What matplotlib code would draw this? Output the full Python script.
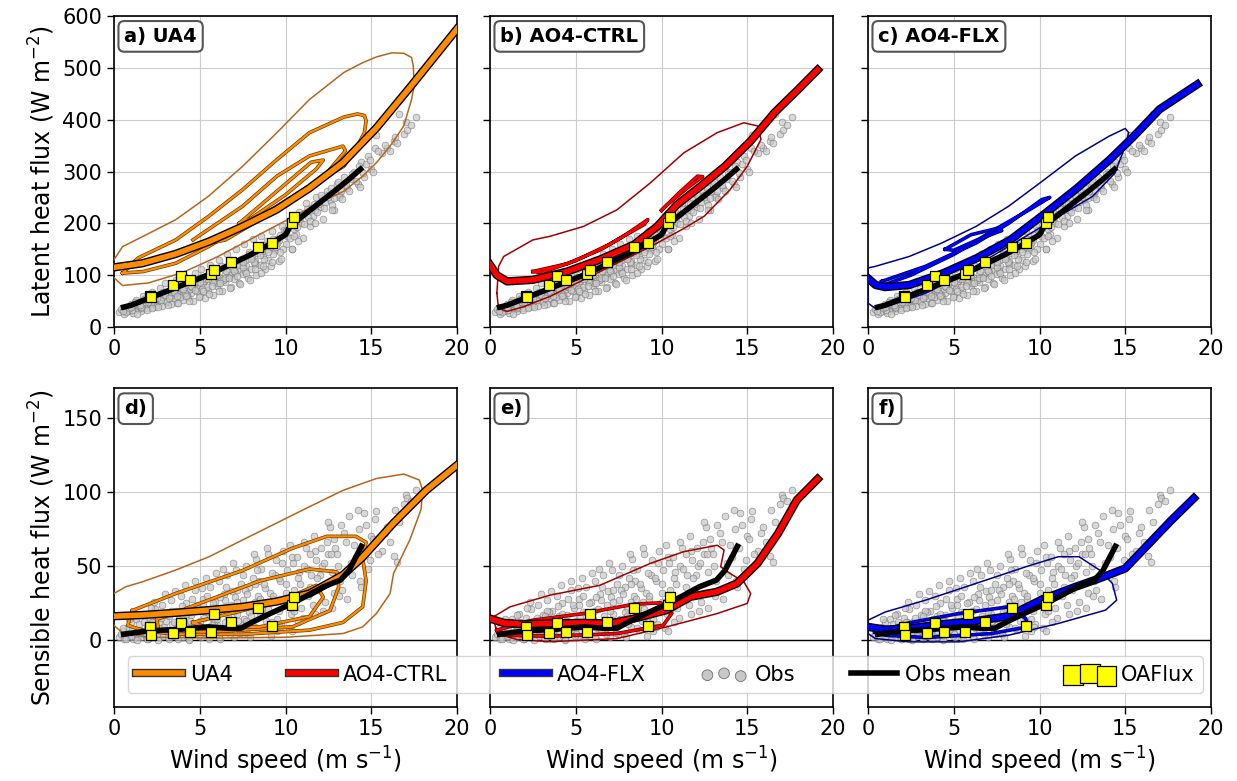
import matplotlib
matplotlib.use("Agg")
import matplotlib.pyplot as plt
import matplotlib.patheffects as pe
from matplotlib.lines import Line2D

# ---------------- data ----------------
# observations (same wind speeds for both fluxes)
obs_ws = [0.3, 0.5, 0.6, 0.8, 0.9, 1.0, 1.1, 1.2, 1.3, 1.4,
          1.5, 1.6, 1.7, 1.8, 1.9, 2.0, 2.1, 2.2, 2.3, 2.4,
          2.5, 2.6, 2.7, 2.8, 2.9, 3.0, 3.1, 3.2, 3.3, 3.4,
          3.5, 3.6, 3.7, 3.8, 3.9, 4.0, 4.1, 4.2, 4.3, 4.4,
          4.5, 4.6, 4.7, 4.8, 4.9, 5.0, 5.1, 5.2, 5.3, 5.4,
          5.5, 5.6, 5.7, 5.8, 5.9, 6.0, 6.1, 6.2, 6.3, 6.4,
          6.5, 6.6, 6.7, 6.8, 6.9, 7.0, 7.1, 7.2, 7.3, 7.4,
          7.5, 7.6, 7.7, 7.8, 7.9, 8.0, 8.1, 8.2, 8.3, 8.4,
          8.5, 8.6, 8.7, 8.8, 8.9, 9.0, 9.2, 9.4, 9.6, 9.8,
          10.0, 10.2, 10.4, 10.6, 10.8, 11.0, 11.2, 11.4, 11.6, 11.8,
          12.0, 12.2, 12.4, 12.6, 12.8, 13.0, 13.2, 13.4, 13.6, 13.8,
          14.0, 14.2, 14.4, 14.6, 14.8, 15.0, 15.2, 15.3, 15.6, 15.9,
          16.1, 16.3, 16.4, 16.5, 16.6, 16.9, 17.0, 17.1, 17.3, 17.6,
          0.4, 0.7, 1.05, 1.25, 1.45, 1.65, 1.85, 2.05, 2.25, 2.45,
          2.65, 2.85, 3.05, 3.25, 3.45, 3.65, 3.85, 4.05, 4.25, 4.45,
          4.65, 4.85, 5.05, 5.25, 5.45, 5.65, 5.85, 6.05, 6.25, 6.45,
          6.65, 6.85, 7.05, 7.25, 7.45, 7.65, 7.85, 8.05, 8.25, 8.45,
          8.65, 8.85, 9.1, 9.3, 9.5, 9.7, 9.9, 10.1, 10.3, 10.5,
          10.7, 10.9, 11.1, 11.3, 11.5, 11.7, 11.9, 12.1, 12.3, 12.5,
          1.35, 1.95, 2.55, 3.15, 3.75, 4.35, 4.95, 5.55, 6.15, 6.75,
          7.35, 7.95, 8.55, 9.15, 9.75, 10.35, 12.7, 12.9, 13.1, 13.5,
          13.7, 13.9, 14.1, 14.3, 14.5, 14.7, 14.9, 15.1, 15.4, 15.8,
          0.55, 0.85, 1.15, 1.55, 1.75, 2.15, 2.35, 2.75, 2.95, 3.35,
          3.55, 3.95, 4.15, 4.55, 4.75, 5.15, 5.35, 5.75, 5.95, 6.35,
          6.55, 6.95, 7.15, 7.55, 7.75, 8.15, 8.35, 8.75, 8.95, 9.25,
          9.45, 9.65, 9.85, 10.05, 10.25, 10.45, 10.65, 10.85, 11.05, 11.25,
          11.45, 11.65, 11.85, 12.05, 12.25, 12.45, 12.65, 12.85, 13.05, 13.25,
          1.0, 1.5, 2.0, 2.5, 3.0, 3.5, 4.0, 4.5, 5.0, 5.5,
          6.0, 6.5, 7.0, 7.5, 8.0, 8.5, 9.0, 9.5, 10.0, 10.5,
          2.2, 3.2, 4.2, 5.2, 6.2, 7.2, 8.2, 9.2, 3.7, 4.7,
          5.7, 6.7, 7.7, 8.7, 9.7, 10.7, 11.7, 12.7, 13.3, 14.35]
obs_lh = [28, 33, 25, 38, 30, 45, 27, 40, 52, 34,
          48, 31, 60, 42, 36, 55, 44, 68, 39, 50,
          62, 46, 75, 40, 58, 85, 49, 66, 44, 72,
          55, 90, 47, 63, 80, 52, 98, 70, 58, 84,
          65, 50, 105, 76, 92, 60, 112, 83, 55, 99,
          72, 120, 88, 62, 104, 79, 130, 95, 70, 115,
          86, 140, 100, 78, 125, 93, 150, 110, 84, 132,
          102, 160, 118, 95, 145, 112, 170, 128, 100, 155,
          120, 175, 138, 112, 165, 130, 185, 148, 128, 195,
          160, 205, 150, 180, 222, 172, 240, 195, 215, 250,
          232, 208, 262, 245, 225, 275, 255, 290, 268, 285,
          300, 275, 318, 290, 330, 305, 345, 370, 335, 346,
          340, 358, 367, 355, 410, 372, 395, 381, 390, 406,
          35, 29, 33, 48, 40, 37, 52, 61, 47, 41,
          54, 67, 50, 61, 77, 68, 57, 88, 62, 73,
          82, 70, 96, 88, 78, 108, 93, 84, 118, 102,
          96, 117, 106, 128, 120, 108, 140, 134, 122, 150,
          146, 158, 155, 170, 162, 178, 188, 176, 198, 190,
          205, 200, 218, 212, 230, 226, 238, 248, 242, 255,
          26, 32, 38, 42, 46, 51, 58, 63, 70, 76,
          82, 90, 105, 118, 132, 150, 236, 262, 250, 274,
          262, 296, 282, 310, 298, 315, 322, 300, 340, 352,
          31, 36, 44, 39, 54, 47, 58, 52, 64, 59,
          66, 74, 65, 78, 87, 74, 92, 86, 99, 90,
          108, 112, 120, 116, 132, 125, 142, 132, 150, 140,
          155, 168, 150, 185, 172, 210, 192, 212, 198, 228,
          205, 238, 222, 255, 230, 250, 268, 248, 280, 262,
          38, 43, 49, 56, 61, 67, 73, 80, 86, 92,
          100, 95, 108, 125, 132, 138, 145, 170, 185, 175,
          36, 55, 60, 70, 85, 98, 112, 125, 60, 71,
          80, 94, 104, 118, 145, 165, 200, 226, 246, 270]
obs_sh = [2, 6, 1, 9, 3, 12, 1, 5, 14, 3,
          7, 2, 18, 4, 10, 1, 15, 8, 3, 21,
          5, 12, 2, 24, 9, 4, 17, 1, 27, 11,
          3, 20, 8, 14, 30, 2, 6, 25, 11, 1,
          17, 4, 34, 9, 22, 13, 2, 28, 7, 19,
          3, 36, 15, 5, 26, 10, 40, 1, 21, 31,
          12, 44, 6, 24, 33, 2, 47, 18, 8, 38,
          27, 14, 50, 4, 36, 22, 42, 9, 55, 30,
          16, 48, 7, 35, 26, 58, 12, 44, 20, 52,
          38, 8, 56, 28, 46, 15, 62, 36, 24, 54,
          44, 20, 66, 76, 32, 58, 40, 72, 28, 52,
          64, 88, 36, 86, 48, 70, 82, 87, 60, 76,
          66, 57, 88, 53, 80, 92, 98, 96, 94, 101,
          4, 1, 7, 2, 11, 5, 3, 6, 12, 9,
          8, 3, 13, 6, 19, 4, 10, 16, 3, 13,
          6, 24, 9, 15, 30, 4, 12, 20, 8, 27,
          16, 9, 29, 13, 4, 34, 19, 11, 26, 40,
          22, 13, 32, 28, 6, 40, 24, 47, 18, 34,
          42, 22, 50, 30, 44, 60, 34, 50, 26, 58,
          0, 1, 0, 2, 1, 0, 3, 1, 2, 4,
          5, 2, 8, 3, 11, 6, 46, 62, 30, 66,
          84, 44, 56, 75, 62, 78, 54, 68, 58, 72,
          8, 14, 5, 17, 12, 22, 26, 15, 31, 20,
          33, 23, 37, 28, 40, 35, 42, 25, 45, 48,
          36, 52, 26, 44, 31, 58, 47, 38, 62, 30,
          54, 42, 60, 32, 64, 52, 56, 38, 66, 48,
          58, 70, 42, 62, 52, 80, 58, 68, 50, 78,
          3, 6, 9, 4, 7, 12, 10, 6, 4, 9,
          14, 7, 20, 10, 16, 28, 21, 14, 26, 20,
          12, 16, 18, 24, 29, 34, 38, 45, 4, 7,
          10, 11, 13, 17, 9, 12, 18, 22, 34, 40]

obs_mean_lh_ws = [0.4, 1, 2, 3, 4, 5, 6, 7, 8, 9, 10, 10.3, 11, 12, 13, 13.7, 14.5]
obs_mean_lh = [37, 42, 55, 68, 81, 94, 108, 124, 140, 158, 178, 196, 214, 240, 266, 285, 308]
obs_mean_sh_ws = [0.4, 2.0, 3.6, 5.5, 6.6, 7.4, 8.1, 9.1, 10.3, 11.2, 12.2, 13.2, 13.7, 14.5]
obs_mean_sh = [3.8, 6.3, 7.2, 9.0, 8.1, 8.1, 12.4, 18, 24.3, 29.7, 36, 40.5, 47, 65]

oaflux_ws = [2.1, 2.15, 3.45, 3.9, 4.45, 5.65, 5.85, 6.8, 8.4, 9.2, 10.4, 10.5]
oaflux_lh = [59, 58, 81, 99, 90, 103, 110, 126, 154, 163, 201, 212]
oaflux_sh = [8.6, 3.8, 5.0, 11.7, 5.4, 5.6, 17.8, 12.6, 21.4, 9.7, 24, 29.3]

# model mean curves
ua4_lh_ws = [0, 1.66, 3.6, 5.55, 7.5, 9.45, 11.4, 13.35, 15.3, 17.25, 20]
ua4_lh = [115, 123, 141, 165, 194, 226, 268, 317, 384, 462, 575]
ctrl_lh_ws = [0, 0.4, 1.0, 2.5, 4.5, 6.4, 8.4, 9.75, 10.9, 12.3, 13.7, 15.2, 16.6, 17.9, 19.1]
ctrl_lh = [120, 100, 88, 91, 107, 130, 159, 194, 236, 272, 310, 359, 414, 456, 496]
flx_lh_ws = [0, 0.45, 1.0, 2.4, 4.4, 6.35, 8.3, 10.25, 12.2, 14.1, 15.5, 17.0, 19.2]
flx_lh = [94, 81, 77, 81, 104, 133, 168, 217, 268, 323, 368, 420, 468]

ua4_sh_ws = [0, 1.66, 3.6, 5.55, 7.5, 9.45, 11.4, 13.35, 14.5, 16.3, 18.2, 20]
ua4_sh = [16.2, 17, 18.5, 20.3, 22.5, 26, 31.5, 44, 56, 79, 101, 118]
ctrl_sh_ws = [0, 0.8, 1.95, 3.5, 5.45, 7.0, 8.4, 10.3, 11.7, 13.25, 14.4, 15.6, 16.8, 17.9, 19.1]
ctrl_sh = [14.6, 11.7, 10.8, 11.3, 11.7, 11.3, 14.6, 20.3, 29.3, 32.7, 38.3, 51.8, 72, 94.6, 108.6]
flx_sh_ws = [0, 1.0, 2.4, 4.3, 6.3, 8.2, 10.15, 12.1, 13.5, 15.0, 16.4, 17.7, 19.0]
flx_sh = [9, 7.2, 7.9, 10.8, 13, 16.2, 27.5, 36, 41.7, 48.4, 65.3, 81, 95.7]

# density contour outlines of the model fields (outer first)
ua4_lh_contours = [
    ([0, 0.5, 1.7, 3.6, 5.5, 7.5, 9.5, 11.4, 13.4, 14.5, 15.3, 16.2, 16.9, 17.35, 17.45, 17.5,
      17.35, 16.9, 16.1, 15.3, 14.5, 13.4, 12, 10, 8, 6, 4, 2, 0.5, 0],
     [130, 155, 175, 207, 252, 310, 375, 439, 491, 510, 521, 529, 528, 520, 504, 465,
      439, 388, 349, 317, 291, 262, 240, 205, 170, 135, 105, 85, 80, 95]),
    ([0.5, 1.4, 3.6, 5.5, 7.5, 9.5, 11.4, 13.4, 14.2, 14.6, 14.7, 14.6, 14.1, 13.4, 11.4, 9.5,
      7.5, 5.5, 3.6, 1.7, 0.5],
     [104, 133, 168, 213, 265, 323, 375, 405, 411, 408, 398, 375, 343, 310, 272, 233,
      194, 155, 123, 107, 104]),
    ([4.6, 7.5, 9.5, 11.4, 13.35, 13.5, 12.4, 10.4, 8.5, 6.5, 4.6],
     [168, 233, 291, 330, 349, 340, 297, 246, 207, 168, 155]),
    ([7.3, 9.5, 11.5, 12.2, 11.8, 10.0, 8.0, 7.3],
     [200, 262, 318, 322, 305, 255, 210, 200]),
]
ctrl_lh_contours = [
    ([0.4, 0.5, 0.8, 2.5, 3.5, 5.45, 7.4, 9.35, 11.3, 13.25, 14.8, 15.6, 15.8, 15.0, 14.0, 12.5,
      11.3, 9.35, 7.4, 5.45, 3.5, 1.95, 1.0, 0.5, 0.4],
     [65, 117, 136, 168, 175, 194, 226, 278, 336, 375, 394, 388, 362, 310, 265, 214,
      190, 155, 123, 91, 59, 39, 30, 36, 65]),
    ([2.5, 4.5, 6.5, 8.0, 9.2, 9.0, 7.0, 5.0, 3.0, 2.5],
     [107, 122, 150, 180, 207, 198, 160, 128, 105, 107]),
    ([10.0, 11.0, 12.1, 12.4, 11.5, 10.3, 10.0],
     [225, 258, 291, 290, 268, 235, 225]),
]
flx_lh_contours = [
    ([0, 0.43, 2.4, 4.3, 6.3, 8.2, 10.15, 12.1, 14.05, 15.0, 15.2, 15.0, 14.4, 13.1, 11.1, 9.2,
      7.2, 5.3, 3.35, 1.4, 0.43, 0, 0],
     [114, 117, 136, 162, 194, 233, 281, 330, 368, 383, 375, 349, 297, 252, 213, 175,
      136, 97, 65, 43, 36, 46, 114]),
    ([0.8, 3.35, 6.3, 8.2, 10.15, 10.6, 9.5, 7.5, 5.0, 2.5, 1.0, 0.8],
     [88, 117, 162, 200, 246, 250, 228, 190, 140, 100, 82, 88]),
    ([4.5, 6.0, 7.5, 7.8, 6.5, 5.0, 4.5],
     [150, 178, 190, 186, 170, 148, 150]),
]
ua4_sh_contours = [
    ([0, 0.68, 1.66, 3.6, 5.55, 7.5, 9.45, 11.4, 13.35, 15.3, 16.9, 17.8, 18.0, 17.9, 17.25, 16.3,
      16.1, 15.3, 14.5, 13.35, 10, 6, 2, 0.5, 0],
     [31.5, 36, 39.4, 47.3, 56.3, 67.6, 78.8, 90, 101, 109, 112, 108, 101, 88, 67.6, 45,
      31.5, 18, 9, 4.5, 2, 1.5, 2, 5, 10]),
    ([1.07, 3.6, 7.5, 10.4, 12.4, 14.1, 14.7, 14.5, 14.7, 14.5, 13.35, 11.4, 7.5, 3.5, 1.66, 0.8, 1.07],
     [20, 31.5, 47, 62, 70, 70, 66, 55, 40, 22.5, 12, 6.8, 4, 4, 6.8, 10, 20]),
    ([2.5, 5.5, 8.5, 11.4, 13.0, 13.1, 12.6, 10.4, 5.55, 2.6, 2.5],
     [14, 27, 40, 48, 46, 36, 20, 9, 5.6, 6.5, 14]),
    ([4.6, 7.5, 10.4, 11.8, 12.2, 11.4, 8.5, 5.55, 4.6],
     [12, 20, 30, 37, 29, 16, 9, 8, 12]),
]
ctrl_sh_contours = [
    ([0.2, 1.17, 3.5, 6.4, 9.35, 11.3, 13.25, 13.65, 13.45, 14.0, 14.8, 15.2, 15.0, 13.25, 10.3,
      7.4, 3.5, 1.56, 0.4, 0.2],
     [15.8, 22.5, 30.4, 37, 51.8, 59.7, 64, 60.8, 49.5, 45, 39.4, 31.5, 24.8, 18, 9,
      1.1, -1, 0.5, 4.5, 15.8]),
    ([0.4, 2.5, 5.45, 8.4, 9.95, 10.6, 10.1, 7.4, 3.5, 0.8, 0.4],
     [6.8, 13.5, 18, 24.3, 25.2, 18, 10.1, 4.5, 2.7, 3.4, 6.8]),
]
flx_sh_contours = [
    ([0, 1.0, 3.35, 6.3, 9.2, 11.1, 12.3, 13.5, 14.25, 14.5, 13.85, 11.1, 8.2, 5.3, 2.4, 0.43, 0, 0],
     [13.5, 19, 27, 38.3, 49.5, 56.3, 56.3, 47.3, 38.3, 27, 20.3, 11.3, 3.4, -1.1, -1.1, 1.1, 4.5, 13.5]),
    ([0.4, 2.4, 5.3, 8.2, 9.2, 9.3, 7.2, 3.35, 1.0, 0.4],
     [5.5, 11.7, 18, 22.5, 14.6, 9, 4.5, 1.8, 3.4, 5.5]),
]

models = ["UA4", "AO4-CTRL", "AO4-FLX"]
colors = ["darkorange", "red", "blue"]
outer_colors = ["#b5651d", "#a00000", "#00008b"]
edge_colors = ["#6b3a00", "#5a0000", "#000050"]
panel_tags = ["a)", "b)", "c)", "d)", "e)", "f)"]

lh_lines = [(ua4_lh_ws, ua4_lh), (ctrl_lh_ws, ctrl_lh), (flx_lh_ws, flx_lh)]
sh_lines = [(ua4_sh_ws, ua4_sh), (ctrl_sh_ws, ctrl_sh), (flx_sh_ws, flx_sh)]
lh_contours = [ua4_lh_contours, ctrl_lh_contours, flx_lh_contours]
sh_contours = [ua4_sh_contours, ctrl_sh_contours, flx_sh_contours]

# ---------------- figure ----------------
plt.rcParams["font.family"] = ["DejaVu Sans"]

fig = plt.figure(figsize=(12.37, 7.81), dpi=100)
lefts = [114 / 1237, 490 / 1237, 868 / 1237]
width = 343 / 1237
axes = []
for r in range(2):
    row = []
    for c in range(3):
        if r == 0:
            rect = [lefts[c], 1 - 327 / 781, width, 311 / 781]
        else:
            rect = [lefts[c], 1 - 707 / 781, width, 319 / 781]
        row.append(fig.add_axes(rect))
    axes.append(row)

for r in range(2):
    for c in range(3):
        ax = axes[r][c]
        if r == 0:
            yv = obs_lh
            mws, mval = obs_mean_lh_ws, obs_mean_lh
            oav = oaflux_lh
            line = lh_lines[c]
            conts = lh_contours[c]
        else:
            yv = obs_sh
            mws, mval = obs_mean_sh_ws, obs_mean_sh
            oav = oaflux_sh
            line = sh_lines[c]
            conts = sh_contours[c]

        ax.grid(True, color="#cccccc", lw=0.8, zorder=0)
        ax.set_axisbelow(True)
        if r == 1:
            ax.axhline(0, color="k", lw=1.0, zorder=1)

        ax.scatter(obs_ws, yv, s=24, facecolor="#c8c8c8", edgecolor="#6e6e6e",
                   lw=0.5, alpha=0.7, zorder=2)

        for i, (cx, cy) in enumerate(conts):
            if i == 0:
                ax.plot(cx, cy, color=outer_colors[c], lw=1.1, zorder=3)
            else:
                ax.plot(cx, cy, color=colors[c], lw=1.6, zorder=3,
                        path_effects=[pe.Stroke(linewidth=2.6, foreground=edge_colors[c]), pe.Normal()])

        ax.plot(line[0], line[1], color=colors[c], lw=4, zorder=4,
                path_effects=[pe.Stroke(linewidth=6, foreground="k"), pe.Normal()])
        ax.plot(mws, mval, color="k", lw=4, zorder=5, solid_capstyle="butt")
        ax.scatter(oaflux_ws, oav, marker="s", s=55, facecolor="yellow",
                   edgecolor="k", lw=0.9, zorder=6)

        ax.set_xlim(0, 20)
        ax.set_xticks([0, 5, 10, 15, 20])
        if r == 0:
            ax.set_ylim(0, 600)
            ax.set_yticks([0, 100, 200, 300, 400, 500, 600])
        else:
            ax.set_ylim(-45, 170)
            ax.set_yticks([0, 50, 100, 150])
        ax.tick_params(labelsize=15, length=5, width=1)
        if c > 0:
            ax.tick_params(labelleft=False)
        for sp in ax.spines.values():
            sp.set_linewidth(1.2)

        tag = panel_tags[r * 3 + c]
        text = tag + " " + models[c] if r == 0 else tag
        ax.text(0.03, 0.965, text, transform=ax.transAxes, ha="left", va="top",
                fontsize=14, fontweight="bold", zorder=10,
                bbox=dict(boxstyle="round,pad=0.3", fc="white", ec="#555555", lw=1.5))

        if r == 1:
            ax.set_xlabel("Wind speed (m s$^{-1}$)", fontsize=17)

axes[0][0].set_ylabel("Latent heat flux (W m$^{-2}$)", fontsize=17)
axes[1][0].set_ylabel("Sensible heat flux (W m$^{-2}$)", fontsize=17)

# legend
handles = []
for c in range(3):
    handles.append(Line2D([], [], color=colors[c], lw=4,
                          path_effects=[pe.Stroke(linewidth=6, foreground="#333333"), pe.Normal()]))
obs_h = axes[1][2].scatter([], [], s=60, facecolor="#c8c8c8", edgecolor="#6e6e6e", lw=0.6)
handles.append(obs_h)
handles.append(Line2D([], [], color="k", lw=4))
oa_h = axes[1][2].scatter([], [], marker="s", s=200, facecolor="yellow", edgecolor="k", lw=0.9)
handles.append(oa_h)
labels = models + ["Obs", "Obs mean", "OAFlux"]

leg = fig.legend(handles, labels, loc="lower left", ncol=6, mode="expand",
                 bbox_to_anchor=(128 / 1237, 1 - 693 / 781, 1075 / 1237, 43 / 781),
                 prop={"size": 15}, scatterpoints=3, handletextpad=0.4,
                 handlelength=2.2, borderaxespad=0, framealpha=0.8, fancybox=True)
leg.set_zorder(20)

fig.savefig("out.png", dpi=100)
